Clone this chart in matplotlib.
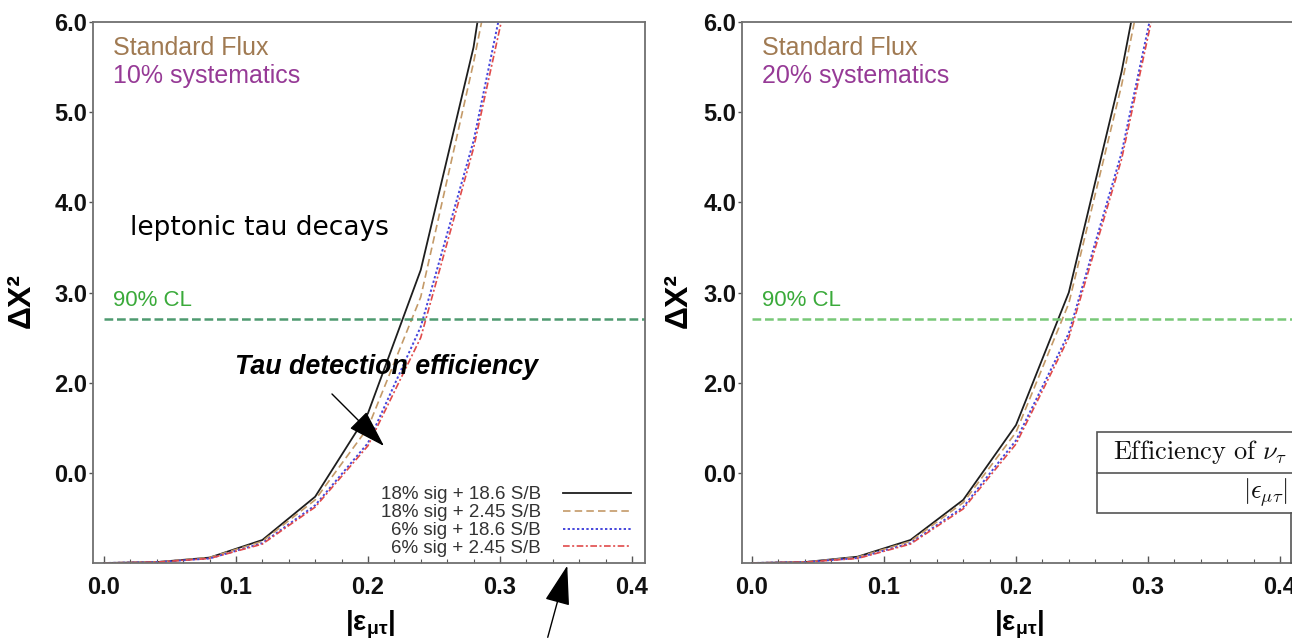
import matplotlib
matplotlib.use("Agg")
import matplotlib.pyplot as plt
from matplotlib.patches import Rectangle, FancyArrowPatch
from matplotlib.lines import Line2D
from matplotlib.ticker import MultipleLocator

plt.rcParams['font.family'] = ['Liberation Sans', 'DejaVu Sans']
plt.rcParams['mathtext.fontset'] = 'custom'
plt.rcParams['mathtext.rm'] = 'Liberation Sans'
plt.rcParams['mathtext.it'] = 'Liberation Sans:italic'
plt.rcParams['mathtext.bf'] = 'Liberation Sans:bold'

# |eps_mu_tau| grid of the scan
eps = [0.0, 0.04, 0.08, 0.12, 0.16, 0.20, 0.24, 0.28, 0.32]

# Delta chi^2, standard flux, 10% systematics
chi2_10_sig18_sb186 = [0.0, 0.01, 0.06, 0.255, 0.735, 1.66, 3.25, 5.72, 9.5]
chi2_10_sig18_sb245 = [0.0, 0.01, 0.06, 0.24, 0.70, 1.50, 2.95, 5.55, 8.5]
chi2_10_sig6_sb186 = [0.0, 0.01, 0.05, 0.22, 0.64, 1.33, 2.62, 4.68, 7.5]
chi2_10_sig6_sb245 = [0.0, 0.01, 0.05, 0.21, 0.62, 1.30, 2.50, 4.60, 7.27]

# Delta chi^2, standard flux, 20% systematics
chi2_20_sig18_sb186 = [0.0, 0.01, 0.07, 0.255, 0.70, 1.53, 3.00, 5.45, 8.5]
chi2_20_sig18_sb245 = [0.0, 0.01, 0.065, 0.24, 0.67, 1.45, 2.88, 5.30, 8.2]
chi2_20_sig6_sb186 = [0.0, 0.01, 0.055, 0.22, 0.62, 1.36, 2.55, 4.55, 7.3]
chi2_20_sig6_sb245 = [0.0, 0.01, 0.05, 0.21, 0.60, 1.32, 2.50, 4.48, 7.2]

series_labels = ["18% sig + 18.6 S/B", "18% sig + 2.45 S/B",
                 "6% sig + 18.6 S/B", "6% sig + 2.45 S/B"]
cl90 = 2.71

ytick_vals = [1, 2, 3, 4, 5, 6]
ytick_text = ["0.0", "2.0", "3.0", "4.0", "5.0", "6.0"]
xtick_vals = [0.0, 0.1, 0.2, 0.3, 0.4]
xtick_text = ["0.0", "0.1", "0.2", "0.3", "0.4"]

styles = [
    dict(color="#1e1e1e", ls="-", lw=1.3),
    dict(color="#c49a68", ls=(0, (4.5, 2.5)), lw=1.2),
    dict(color="#4646dc", ls=(0, (1.2, 1.2)), lw=1.4),
    dict(color="#e04a4a", ls=(0, (4, 1.5, 1.2, 1.5)), lw=1.2),
]

W, H = 1292, 643
fig = plt.figure(figsize=(W / 100, H / 100), dpi=100)

def px_rect(x0, y_top, w, h):
    return [x0 / W, (H - y_top - h) / H, w / W, h / H]

axL = fig.add_axes(px_rect(93, 22, 552, 541))
axR = fig.add_axes(px_rect(742, 22, 552, 541))

panels = [
    (axL, [chi2_10_sig18_sb186, chi2_10_sig18_sb245, chi2_10_sig6_sb186, chi2_10_sig6_sb245],
     "10% systematics", (-0.0083, 0.4099), "#4e9a70", -0.129),
    (axR, [chi2_20_sig18_sb186, chi2_20_sig18_sb245, chi2_20_sig6_sb186, chi2_20_sig6_sb245],
     "20% systematics", (-0.0076, 0.4106), "#78c878", -0.114),
]

for ax, curves, syst, xl, clcol, ylab_x in panels:
    for vals, st, lab in zip(curves, styles, series_labels):
        ax.plot(eps, vals, label=lab, **st)
    ax.plot([0.0, xl[1]], [cl90, cl90], color=clcol, ls=(0, (3.5, 1.5)), lw=1.8)
    ax.set_xlim(*xl)
    ax.set_ylim(0, 6)
    ax.set_xticks(xtick_vals)
    ax.set_xticklabels(xtick_text)
    ax.xaxis.set_minor_locator(MultipleLocator(0.02))
    ax.set_yticks(ytick_vals)
    ax.set_yticklabels(ytick_text)
    for lab in ax.get_xticklabels() + ax.get_yticklabels():
        lab.set_fontweight("bold")
        lab.set_fontsize(17)
        lab.set_color("#111111")
    ax.tick_params(axis="x", which="major", direction="in", length=5, width=1, color="#555555", pad=9)
    ax.tick_params(axis="x", which="minor", direction="in", length=3, width=0.8, color="#555555")
    ax.tick_params(axis="y", which="major", direction="out", length=3, width=1, color="#555555", pad=1)
    for sp in ax.spines.values():
        sp.set_color("#707070")
        sp.set_linewidth(1.3)

    ax.set_xlabel(r"$\mathbf{|\varepsilon_{\mu\tau}|}$", fontsize=20)
    ax.xaxis.set_label_coords(0.502, -0.115)
    ax.xaxis.label.set_va("center")
    ax.set_ylabel("ΔX²", fontsize=23, fontweight="bold")
    ax.yaxis.set_label_coords(ylab_x, 0.486)
    ax.yaxis.label.set_va("center")

    ax.text(0.036, 0.952, "Standard Flux", transform=ax.transAxes, fontsize=18,
            color="#a07a52", va="center", ha="left")
    ax.text(0.036, 0.900, syst, transform=ax.transAxes, fontsize=18,
            color="#963a96", va="center", ha="left")
    ax.text(0.036, 0.486, "90% CL", transform=ax.transAxes, fontsize=16,
            color="#3aaa3a", va="center", ha="left")

# left panel extras
axL.text(0.067, 0.619, "leptonic tau decays", transform=axL.transAxes,
         fontsize=19, family="DejaVu Sans", color="black", va="center", ha="left")
axL.text(0.257, 0.362, "Tau detection efficiency", transform=axL.transAxes,
         fontsize=19.3, fontweight="bold", fontstyle="italic", color="black",
         va="center", ha="left")
leg = axL.legend(loc="lower right", bbox_to_anchor=(0.9746, 0.011), frameon=False,
                 markerfirst=False, handlelength=3.6, handletextpad=1.2,
                 labelspacing=0.04, fontsize=13.5, borderpad=0, borderaxespad=0)
for t in leg.get_texts():
    t.set_color("#333333")
    t.set_ha("right")

# arrows
fig.add_artist(FancyArrowPatch(
    posA=(330 / W, (H - 392) / H), posB=(386 / W, (H - 448) / H),
    transform=fig.transFigure, arrowstyle="-|>,head_length=24,head_width=7.5",
    mutation_scale=1, color="black", lw=1.0))
fig.add_artist(FancyArrowPatch(
    posA=(547 / W, (H - 640) / H), posB=(568 / W, (H - 563) / H),
    transform=fig.transFigure, arrowstyle="-|>,head_length=25,head_width=8",
    mutation_scale=1, color="black", lw=1.0))

# efficiency table overlay on the right panel
tx0, ty_top, ty_mid, ty_bot = 1097, 432, 473, 513
fig.add_artist(Rectangle((tx0 / W, (H - ty_bot) / H), (W + 20 - tx0) / W,
                         (ty_bot - ty_top) / H, transform=fig.transFigure,
                         facecolor="white", edgecolor="#555555", lw=1.2))
fig.add_artist(Line2D([tx0 / W, 1.02], [(H - ty_mid) / H] * 2,
                      transform=fig.transFigure, color="#555555", lw=1.2))
fig.add_artist(Line2D([1290.5 / W] * 2, [(H - ty_bot) / H, (H - 563) / H],
                      transform=fig.transFigure, color="#555555", lw=1.2))
fig.text(1113 / W, (H - 452) / H, r"$\mathrm{Efficiency\ of\ }\nu_\tau\ \mathrm{detection}$",
         math_fontfamily="cm", fontsize=19, va="center", ha="left", color="#111111")
fig.text(1243 / W, (H - 493) / H, r"$|\epsilon_{\mu\tau}|\ \mathrm{bound}$",
         math_fontfamily="cm", fontsize=19, va="center", ha="left", color="#111111")

fig.savefig("out.png", dpi=100)
